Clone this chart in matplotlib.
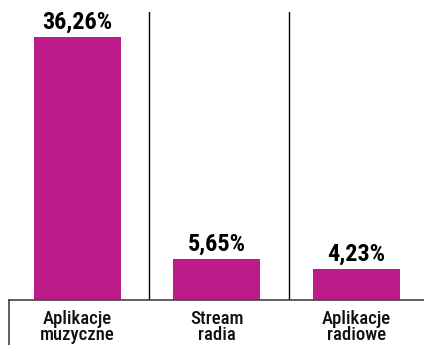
import matplotlib.pyplot as plt

categories = ['Aplikacje\nmuzyczne', 'Stream\nradia', 'Aplikacje\nradiowe']
values = [36.26, 5.65, 4.23]
value_labels = ['36,26%', '5,65%', '4,23%']

bar_color = '#BE1B8A'
font = 'Roboto Condensed'

fig = plt.figure(figsize=(4.24, 3.45), dpi=100)
ax = fig.add_axes([9 / 424, 45 / 345, 415 / 424, 288 / 345])

x = range(len(values))
ax.bar(x, values, width=0.625, color=bar_color)
ax.set_xlim(-0.49, 2.485)
ax.set_ylim(0, 39.7)

for i, (v, lab) in enumerate(zip(values, value_labels)):
    ax.text(i, v + 0.5, lab, ha='center', va='bottom', fontsize=17.5,
            fontweight='heavy', family=font, color='black')

# separators between categories
for sx in [0.512, 1.516]:
    ax.axvline(sx, color='black', lw=1)

for s in ['top', 'right', 'left']:
    ax.spines[s].set_visible(False)
ax.spines['bottom'].set_color('#444444')
ax.spines['bottom'].set_linewidth(1.2)
ax.plot([0, 0], [0, -45 / 288], transform=ax.transAxes, color='#444444',
        lw=1.2, clip_on=False)

ax.set_yticks([])
ax.set_xticks(list(x))
ax.set_xticklabels(categories, fontsize=13.5, family=font, fontweight='medium',
                   linespacing=0.9, color='#111111')
ax.tick_params(axis='x', length=0, pad=7)

fig.savefig('out.png', dpi=100)
